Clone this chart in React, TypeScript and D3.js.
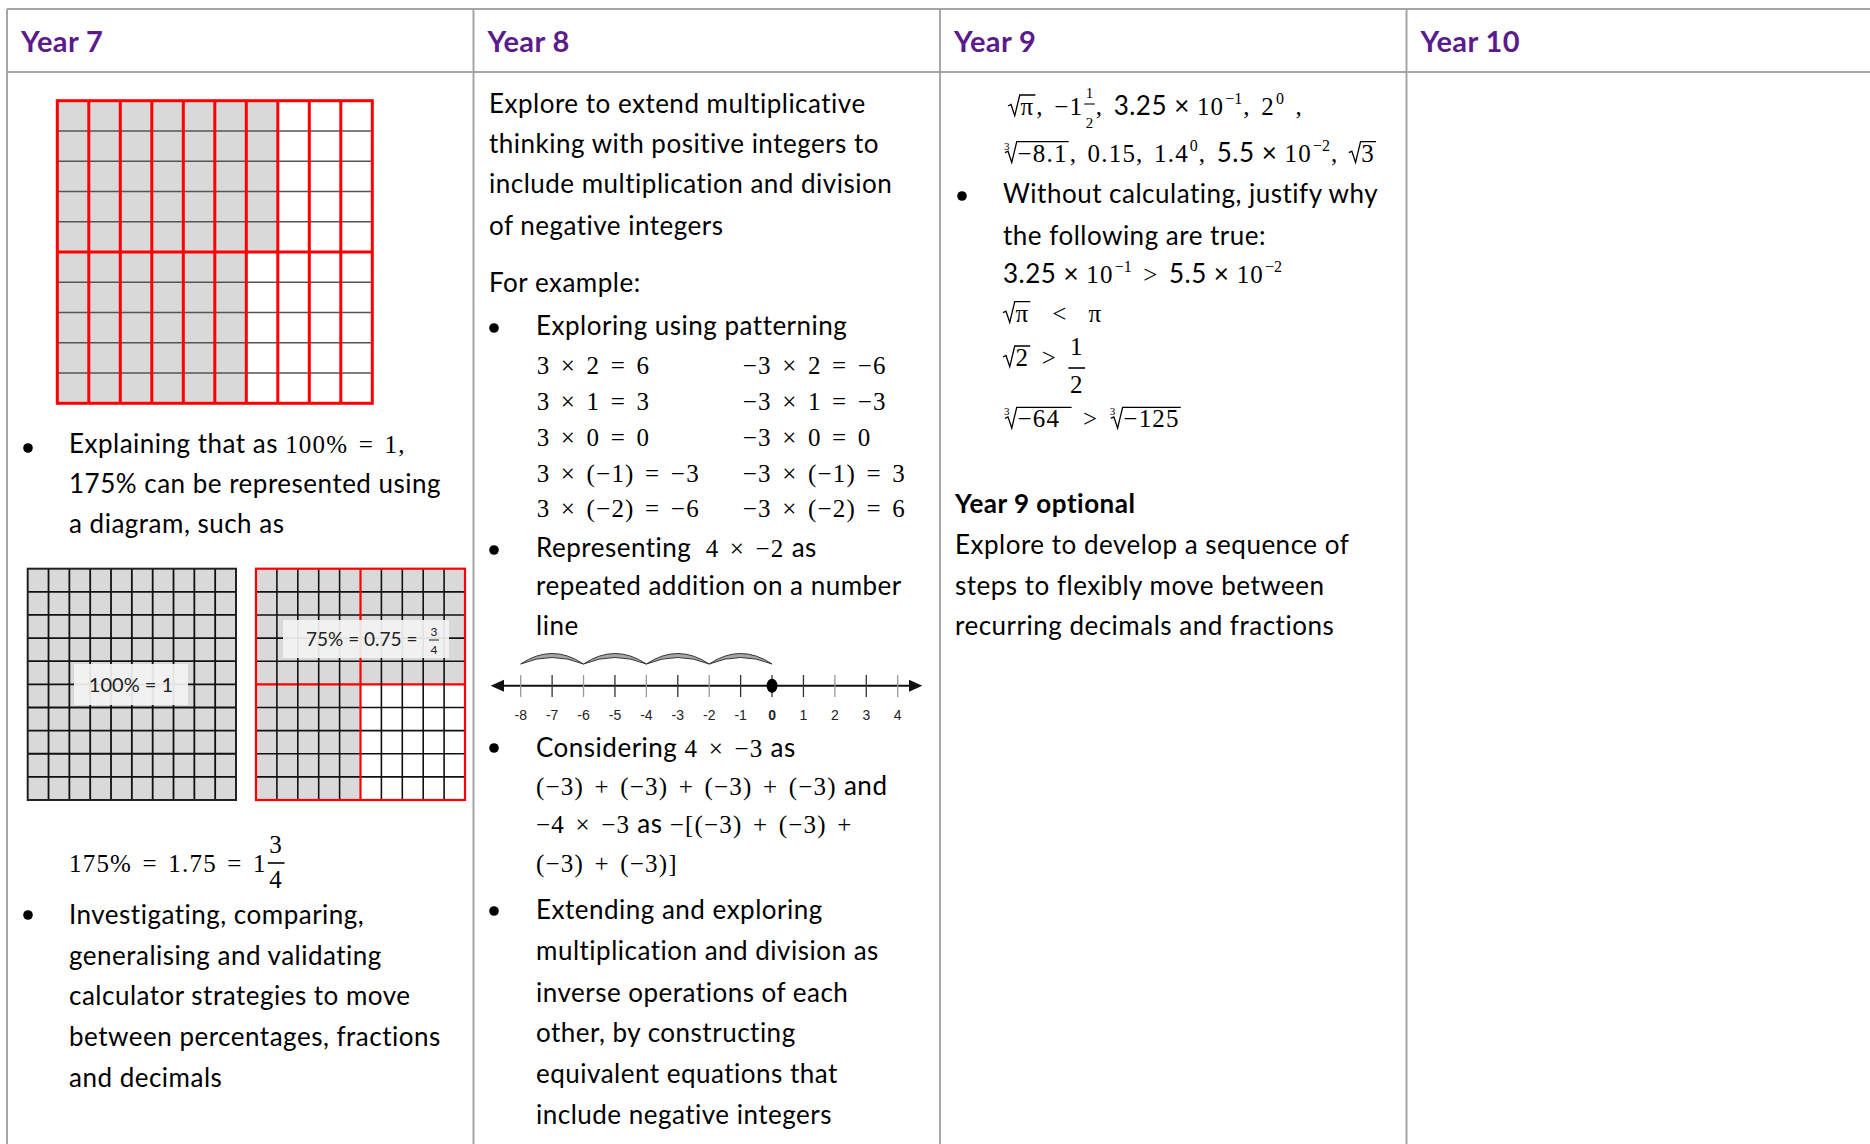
import React, { useEffect, useRef } from "react";
import * as d3 from "d3";

const W = 1870;
const H = 1144;

// table columns
const years = ["Year 7", "Year 8", "Year 9", "Year 10"];

// hundred grids: shaded cells in each of the 10 rows
const bigGridShaded = [7, 7, 7, 7, 7, 6, 6, 6, 6, 6];
const unitGridShaded = [10, 10, 10, 10, 10, 10, 10, 10, 10, 10];
const quarterGridShaded = [10, 10, 10, 10, 10, 5, 5, 5, 5, 5];

// number line
const lineTicks = [-8, -7, -6, -5, -4, -3, -2, -1, 0, 1, 2, 3, 4];
const lineJumps = [
  [-8, -6],
  [-6, -4],
  [-4, -2],
  [-2, 0],
];

// patterning table (Year 8)
const patternLeft = ["3 × 2 = 6", "3 × 1 = 3", "3 × 0 = 0", "3 × (−1) = −3", "3 × (−2) = −6"];
const patternRight = ["−3 × 2 = −6", "−3 × 1 = −3", "−3 × 0 = 0", "−3 × (−1) = 3", "−3 × (−2) = 6"];

const y7Investigating = [
  "Investigating, comparing,",
  "generalising and validating",
  "calculator strategies to move",
  "between percentages, fractions",
  "and decimals",
];
const y8Intro = [
  "Explore to extend multiplicative",
  "thinking with positive integers to",
  "include multiplication and division",
  "of negative integers",
];
const y8Extending = [
  "Extending and exploring",
  "multiplication and division as",
  "inverse operations of each",
  "other, by constructing",
  "equivalent equations that",
  "include negative integers",
];
const y9Optional = [
  "Explore to develop a sequence of",
  "steps to flexibly move between",
  "recurring decimals and fractions",
];

const SANS = "Lato, 'Open Sans', sans-serif";
const MATH = "'Liberation Serif', 'DejaVu Serif', serif";
const SANS_SIZE = 26;
const SANS_LS = 0.5;
const MATH_SIZE = 25;
const MATH_LS = 1.2;
const MATH_WS = 3;
const BORDER = "#a6a6a6";
const PURPLE = "#5b1b8c";

type Seg =
  | { k: "t"; s: string; f: "sans" | "math" | "bold" }
  | { k: "sup"; s: string }
  | { k: "frac"; n: string; d: string; size: number; bar: number; num: number; den: number }
  | { k: "root"; body: string; idx?: string };

const S = (s: string): Seg => ({ k: "t", s, f: "sans" });
const M = (s: string): Seg => ({ k: "t", s, f: "math" });
const B = (s: string): Seg => ({ k: "t", s, f: "bold" });
const Sup = (s: string): Seg => ({ k: "sup", s });
const R = (body: string, idx?: string): Seg => ({ k: "root", body, idx });
const F = (n: string, d: string, size: number, bar: number, num: number, den: number): Seg => ({
  k: "frac", n, d, size, bar, num, den,
});

const richLines: { x: number; y: number; segs: Seg[] }[] = [
  // Year 7
  { x: 69, y: 453, segs: [S("Explaining that as "), M("100% = 1,")] },
  { x: 69, y: 493, segs: [S("175% can be represented using")] },
  { x: 69, y: 533, segs: [S("a diagram, such as")] },
  { x: 69, y: 872, segs: [M("175% = 1.75 = 1"), F("3", "4", 25, -9, -19, 16)] },
  // Year 8
  { x: 489, y: 291.7, segs: [S("For example:")] },
  { x: 536, y: 335, segs: [S("Exploring using patterning")] },
  { x: 536, y: 556.7, segs: [S("Representing  "), M("4 × −2"), S(" as")] },
  { x: 536, y: 595, segs: [S("repeated addition on a number")] },
  { x: 536, y: 635, segs: [S("line")] },
  { x: 536, y: 756.7, segs: [S("Considering "), M("4 × −3"), S(" as")] },
  { x: 536, y: 795, segs: [M("(−3) + (−3) + (−3) + (−3)"), S(" and")] },
  { x: 536, y: 833.3, segs: [M("−4 × −3"), S(" as "), M("−[(−3) + (−3) +")] },
  { x: 536, y: 871.7, segs: [M("(−3) + (−3)]")] },
  // Year 9
  {
    x: 1008,
    y: 115,
    segs: [R("π"), M(", −1"), F("1", "2", 15, -11, -17, 13), M(", "), S("3.25 × "), M("10"), Sup("−1"), M(", "), M("2"), Sup("0"), M(" ,")],
  },
  {
    x: 1003,
    y: 161.7,
    segs: [R("−8.1", "3"), M(", 0.15, 1.4"), Sup("0"), M(", "), S("5.5 × "), M("10"), Sup("−2"), M(", "), R("3")],
  },
  { x: 1003, y: 202.7, segs: [S("Without calculating, justify why")] },
  { x: 1003, y: 245, segs: [S("the following are true:")] },
  { x: 1003, y: 283.3, segs: [S("3.25 × "), M("10"), Sup("−1"), M(" > "), S("5.5 × "), M("10"), Sup("−2")] },
  { x: 1003, y: 321.7, segs: [R("π"), M("  <  π")] },
  { x: 1003, y: 366, segs: [R("2"), M(" > "), F("1", "2", 25, 2, -11, 27)] },
  { x: 1003, y: 427.3, segs: [R("−64 ", "3"), M(" > "), R("−125", "3")] },
  { x: 955, y: 513.3, segs: [B("Year 9 optional")] },
];

const bullets = [
  [28, 448],
  [28, 915],
  [494, 328],
  [494, 550],
  [494, 748],
  [494, 911],
  [962, 196],
];

export default function App() {
  const ref = useRef<SVGSVGElement>(null);

  useEffect(() => {
    document.body.style.margin = "0";
    document.body.style.overflow = "hidden";

    const draw = () => {
      const svg = d3.select(ref.current);
      svg.selectAll("*").remove();
      svg.append("rect").attr("width", W).attr("height", H).attr("fill", "#fff");

      const put = (g: any, s: string, x: number, y: number, fam: string, size: number, weight = "normal", anchor = "start") => {
        const t = g
          .append("text")
          .attr("x", x)
          .attr("y", y)
          .attr("font-family", fam)
          .attr("font-size", size)
          .attr("font-weight", weight)
          .attr("text-anchor", anchor)
          .attr("fill", "#000")
          .style("white-space", "pre")
          .text(s);
        if (fam === MATH && size >= 20) t.attr("letter-spacing", MATH_LS).attr("word-spacing", MATH_WS);
        if (fam === SANS && size >= 24) t.attr("letter-spacing", SANS_LS);
        return t;
      };

      const rich = (g: any, x0: number, y: number, segs: Seg[]) => {
        let cx = x0;
        segs.forEach((seg) => {
          if (seg.k === "t") {
            const fam = seg.f === "math" ? MATH : SANS;
            const size = seg.f === "math" ? MATH_SIZE : SANS_SIZE;
            const t = put(g, seg.s, cx, y, fam, size, seg.f === "bold" ? "bold" : "normal");
            cx += t.node().getComputedTextLength();
          } else if (seg.k === "sup") {
            const t = put(g, seg.s, cx + 1, y - 11, MATH, 16);
            cx += t.node().getComputedTextLength() + 2;
          } else if (seg.k === "frac") {
            const n = put(g, seg.n, 0, y + seg.num, MATH, seg.size, "normal", "middle");
            const d = put(g, seg.d, 0, y + seg.den, MATH, seg.size, "normal", "middle");
            const w = Math.max(n.node().getComputedTextLength(), d.node().getComputedTextLength()) + 3;
            n.attr("x", cx + w / 2 + 1);
            d.attr("x", cx + w / 2 + 1);
            g.append("line")
              .attr("x1", cx + 1)
              .attr("x2", cx + 1 + w)
              .attr("y1", y + seg.bar)
              .attr("y2", y + seg.bar)
              .attr("stroke", "#000")
              .attr("stroke-width", seg.size > 20 ? 1.6 : 1.1);
            cx += w + 2;
          } else {
            const s = MATH_SIZE;
            const x = cx + (seg.idx ? 2 : 0);
            if (seg.idx) put(g, seg.idx, x - 1, y - 12, MATH, 11);
            const bx = x + 0.5 * s;
            const t = put(g, seg.body, bx, y, MATH, s);
            const bw = t.node().getComputedTextLength();
            const p = d3.path();
            p.moveTo(x, y - 0.36 * s);
            p.lineTo(x + 0.12 * s, y - 0.42 * s);
            p.lineTo(x + 0.27 * s, y + 0.03 * s);
            p.lineTo(x + 0.47 * s, y - 0.8 * s);
            p.lineTo(bx + bw + 1, y - 0.8 * s);
            g.append("path").attr("d", p.toString()).attr("fill", "none").attr("stroke", "#000").attr("stroke-width", 1.3);
            cx = bx + bw + 2;
          }
        });
      };

      // ---- table frame
      const col = d3.scaleBand<string>().domain(years).range([7, 7 + 466.5 * 4]).paddingInner(0);
      const frame = svg.append("g").attr("stroke", BORDER).attr("stroke-width", 2);
      frame.append("line").attr("x1", 7).attr("x2", W).attr("y1", 9).attr("y2", 9);
      frame.append("line").attr("x1", 7).attr("x2", W).attr("y1", 72).attr("y2", 72);
      frame
        .selectAll("line.v")
        .data(years)
        .join("line")
        .attr("class", "v")
        .attr("x1", (d) => col(d)!)
        .attr("x2", (d) => col(d)!)
        .attr("y1", 9)
        .attr("y2", H);
      svg
        .append("g")
        .selectAll("text")
        .data(years)
        .join("text")
        .attr("x", (d) => col(d)! + 14)
        .attr("y", 52)
        .attr("font-family", SANS)
        .attr("font-weight", "bold")
        .attr("font-size", 29)
        .attr("letter-spacing", 0.4)
        .attr("fill", PURPLE)
        .text((d) => d);

      // ---- hundred grids
      const grid = (
        x0: number, y0: number, w: number, h: number, shaded: number[],
        o: { line: string; lw: number; vline: string; vw: number; outer: string; ow: number; cross?: string }
      ) => {
        const g = svg.append("g");
        const idx = d3.range(10);
        const xs = d3.scaleBand<number>().domain(idx).range([x0, x0 + w]);
        const ys = d3.scaleBand<number>().domain(idx).range([y0, y0 + h]);
        const cells = idx.flatMap((r) => idx.map((c) => ({ r, c, on: c < shaded[r] })));
        g.selectAll("rect.cell")
          .data(cells)
          .join("rect")
          .attr("x", (d) => xs(d.c)!)
          .attr("y", (d) => ys(d.r)!)
          .attr("width", xs.bandwidth())
          .attr("height", ys.bandwidth())
          .attr("fill", (d) => (d.on ? "#d9d9d9" : "#fff"));
        const inner = idx.slice(1);
        g.selectAll("line.h")
          .data(inner)
          .join("line")
          .attr("x1", x0).attr("x2", x0 + w)
          .attr("y1", (d) => ys(d)!).attr("y2", (d) => ys(d)!)
          .attr("stroke", (d) => (o.cross && d === 5 ? o.cross : o.line))
          .attr("stroke-width", (d) => (o.cross && d === 5 ? 2.2 : o.lw));
        g.selectAll("line.v")
          .data(inner)
          .join("line")
          .attr("y1", y0).attr("y2", y0 + h)
          .attr("x1", (d) => xs(d)!).attr("x2", (d) => xs(d)!)
          .attr("stroke", (d) => (o.cross && d === 5 ? o.cross : o.vline))
          .attr("stroke-width", (d) => (o.cross && d === 5 ? 2.2 : o.vw));
        g.append("rect")
          .attr("x", x0).attr("y", y0).attr("width", w).attr("height", h)
          .attr("fill", "none").attr("stroke", o.outer).attr("stroke-width", o.ow);
        return g;
      };

      const big = grid(57.3, 100.7, 315, 302.6, bigGridShaded, {
        line: "#555", lw: 1.4, vline: "#ff0000", vw: 3, outer: "#ff0000", ow: 3,
      });
      big.append("line")
        .attr("x1", 57.3).attr("x2", 372.3).attr("y1", 100.7 + 151.3).attr("y2", 100.7 + 151.3)
        .attr("stroke", "#ff0000").attr("stroke-width", 3);

      grid(27.7, 568.7, 208.3, 231.3, unitGridShaded, {
        line: "#111", lw: 1.8, vline: "#111", vw: 1.8, outer: "#222", ow: 2,
      });
      grid(256, 568.7, 209, 231.3, quarterGridShaded, {
        line: "#111", lw: 1.6, vline: "#111", vw: 1.6, outer: "#ff0000", ow: 2.2, cross: "#ff0000",
      });

      // labels on the small grids
      const lab = svg.append("g");
      lab.append("rect").attr("x", 74).attr("y", 664).attr("width", 114).attr("height", 41).attr("fill", "#f2f2f2").attr("opacity", 0.93);
      put(lab, "100% = 1", 131, 692, SANS, 20, "normal", "middle").attr("fill", "#222");
      lab.append("rect").attr("x", 283).attr("y", 620).attr("width", 166).attr("height", 38).attr("fill", "#f2f2f2").attr("opacity", 0.93);
      put(lab, "75% = 0.75 = ", 306, 646, SANS, 19).attr("fill", "#222");
      put(lab, "3", 434, 636, SANS, 12, "normal", "middle").attr("fill", "#222");
      put(lab, "4", 434, 654, SANS, 12, "normal", "middle").attr("fill", "#222");
      lab.append("line").attr("x1", 429).attr("x2", 439).attr("y1", 640).attr("y2", 640).attr("stroke", "#222").attr("stroke-width", 1);

      // ---- number line
      const nl = svg.append("g");
      const x = d3.scaleLinear().domain([-8, 4]).range([520.7, 897.7]);
      const ay = 685.7;
      nl.append("line").attr("x1", 495).attr("x2", 918).attr("y1", ay).attr("y2", ay).attr("stroke", "#111").attr("stroke-width", 2);
      nl.append("path").attr("d", `M490.7,${ay}L504,${ay - 6}L504,${ay + 6}Z`).attr("fill", "#111");
      nl.append("path").attr("d", `M922.3,${ay}L909,${ay - 6}L909,${ay + 6}Z`).attr("fill", "#111");
      nl.selectAll("line.tick")
        .data(lineTicks)
        .join("line")
        .attr("x1", (d) => x(d)).attr("x2", (d) => x(d))
        .attr("y1", 675).attr("y2", 697)
        .attr("stroke", (d) => (d % 2 === 0 && d !== 0 ? "#999" : "#333"))
        .attr("stroke-width", 1.3);
      nl.selectAll("text")
        .data(lineTicks)
        .join("text")
        .attr("x", (d) => x(d))
        .attr("y", 720)
        .attr("text-anchor", "middle")
        .attr("font-family", "'Liberation Sans', Arial, sans-serif")
        .attr("font-size", 14)
        .attr("font-weight", (d) => (d === 0 ? "bold" : "normal"))
        .attr("fill", "#222")
        .text((d) => String(d));
      nl.selectAll("path.jump")
        .data(lineJumps)
        .join("path")
        .attr("d", ([a, b]) => {
          const xa = x(a), xb = x(b), m = (xa + xb) / 2;
          return `M${xa},664Q${m},643 ${xb},664Q${m},651 ${xa},664Z`;
        })
        .attr("fill", "#a6a6a6")
        .attr("stroke", "#333")
        .attr("stroke-width", 1);
      nl.append("ellipse").attr("cx", x(0)).attr("cy", ay).attr("rx", 5.5).attr("ry", 7).attr("fill", "#000");

      // ---- bullets
      svg.append("g")
        .selectAll("circle")
        .data(bullets)
        .join("circle")
        .attr("cx", (d) => d[0])
        .attr("cy", (d) => d[1])
        .attr("r", 4.8)
        .attr("fill", "#000");

      // ---- text
      const tg = svg.append("g");
      richLines.forEach((l) => rich(tg, l.x, l.y, l.segs));
      const plain = (lines: string[], x0: number, ys: number[]) =>
        lines.forEach((s, i) => put(tg, s, x0, ys[i], SANS, SANS_SIZE));
      plain(y7Investigating, 69, [924, 965, 1005, 1046, 1087]);
      plain(y8Intro, 489, [112.7, 152.7, 193, 235]);
      plain(y8Extending, 536, [919, 960, 1001.5, 1042, 1082.6, 1124.4]);
      plain(y9Optional, 955, [554, 595, 635]);
      const rowY = [374, 409.5, 445.7, 481.7, 517.3];
      patternLeft.forEach((s, i) => put(tg, s, 536.7, rowY[i], MATH, MATH_SIZE));
      patternRight.forEach((s, i) => put(tg, s, 742.7, rowY[i], MATH, MATH_SIZE));
    };

    draw();
    let alive = true;
    Promise.all([
      document.fonts.load(`${SANS_SIZE}px Lato`),
      document.fonts.load(`bold 29px Lato`),
      document.fonts.load(`${MATH_SIZE}px 'Liberation Serif'`),
    ])
      .then(() => document.fonts.ready)
      .then(() => {
        if (alive) draw();
      });
    return () => {
      alive = false;
    };
  }, []);

  return <svg ref={ref} width={W} height={H} style={{ display: "block" }} />;
}
